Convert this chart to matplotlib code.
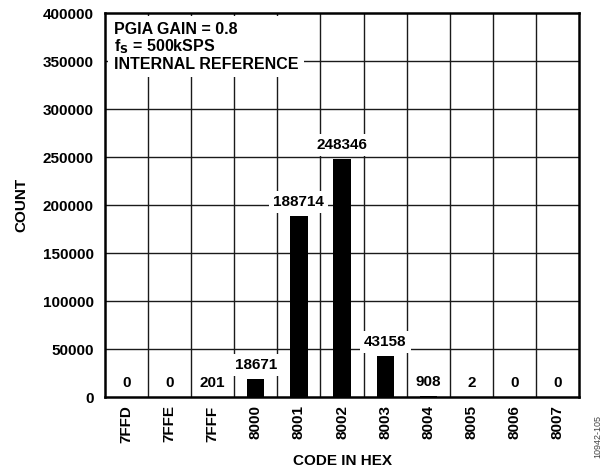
import matplotlib.pyplot as plt
import numpy as np

plt.rcParams['font.family'] = ['Liberation Sans', 'DejaVu Sans']
plt.rcParams['font.weight'] = 'bold'

# histogram data
codes = ['7FFD', '7FFE', '7FFF', '8000', '8001', '8002', '8003', '8004', '8005', '8006', '8007']
counts = [0, 0, 201, 18671, 188714, 248346, 43158, 908, 2, 0, 0]
yticks = [0, 50000, 100000, 150000, 200000, 250000, 300000, 350000, 400000]

fig = plt.figure(figsize=(6.13, 4.7), dpi=100)
ax = fig.add_axes([0.171, 0.155, 0.774, 0.817])

x = np.arange(len(codes))
ax.bar(x, counts, width=0.4, color='black', zorder=3)

# grid lines between the bars and at each y tick
for xb in np.arange(0.5, len(codes) - 0.5, 1):
    ax.axvline(xb, color='#1a1a1a', lw=1.0, zorder=1)
for yv in yticks[1:-1]:
    ax.axhline(yv, color='#1a1a1a', lw=1.0, zorder=1)

# value labels with white boxes that hide the grid
for xi, c in zip(x, counts):
    ax.annotate(str(c), (xi, c), xytext=(0, 5), textcoords='offset points',
                ha='center', va='bottom', fontsize=11, fontweight='bold', zorder=4,
                bbox=dict(facecolor='white', edgecolor='none', pad=3))

ax.set_xlim(-0.5, len(codes) - 0.5)
ax.set_ylim(0, 400000)
ax.set_yticks(yticks)
ax.set_yticklabels([str(v) for v in yticks], fontsize=11, fontweight='bold')
ax.set_xticks(x)
ax.set_xticklabels(codes, rotation=90, fontsize=11, fontweight='bold')
ax.tick_params(axis='y', length=0, pad=8)
ax.tick_params(axis='x', length=0, pad=6)

for s in ax.spines.values():
    s.set_linewidth(1.8)
    s.set_zorder(5)

ax.set_ylabel('COUNT', fontsize=11, fontweight='bold', labelpad=10)
ax.set_xlabel('CODE IN HEX', fontsize=11, fontweight='bold', labelpad=8)

ax.text(0.019, 0.978, 'PGIA GAIN = 0.8\nf$_\\mathbf{S}$ = 500kSPS\nINTERNAL REFERENCE',
        transform=ax.transAxes, ha='left', va='top', fontsize=11.5, fontweight='bold',
        linespacing=1.05, zorder=4,
        bbox=dict(facecolor='white', edgecolor='none', pad=4))

fig.text(0.976, 0.025, '10942-105', rotation=90, fontsize=6.5, color='#444444',
         fontweight='normal', ha='center', va='bottom')

fig.savefig('out.png', dpi=100)
